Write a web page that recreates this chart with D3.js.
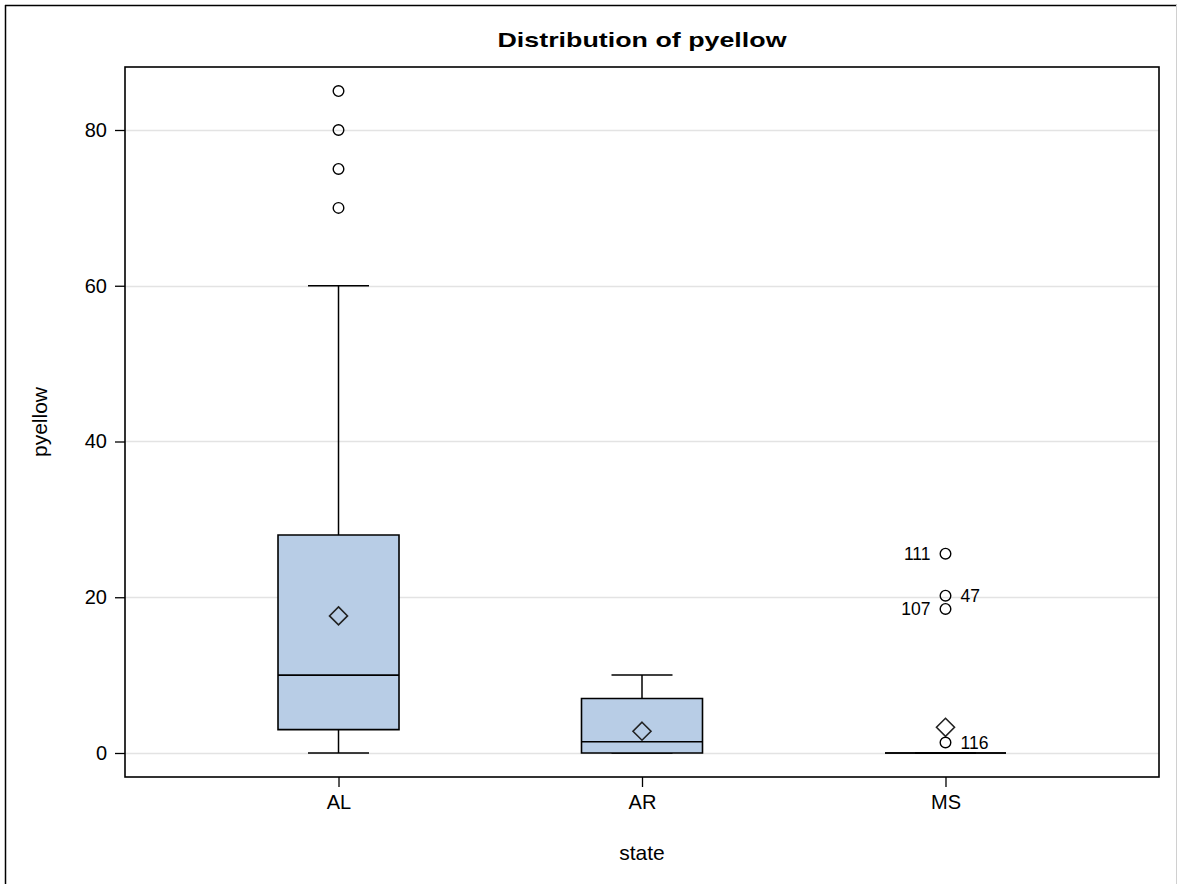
<!DOCTYPE html>
<html>
<head>
<meta charset="utf-8">
<script src="https://cdn.jsdelivr.net/npm/d3@7"></script>
<style>
  html, body { margin: 0; padding: 0; background: #fff; }
  svg { display: block; }
  text { font-family: "Liberation Sans", Arial, sans-serif; fill: #000; }
</style>
</head>
<body>
<svg id="chart" width="1178" height="884"></svg>
<script>
// ---- data ----
const categories   = ["AL", "AR", "MS"];
const q1Values     = [3, 0, 0];
const medianValues = [10, 1.45, 0];
const q3Values     = [28, 7, 0];
const whiskerLow   = [0, 0, 0];
const whiskerHigh  = [60, 10, 0];
const meanValues   = [17.6, 2.8, 3.3];
const outlierState = ["AL", "AL", "AL", "AL", "MS", "MS", "MS", "MS"];
const outlierValue = [85, 80, 75, 70, 25.6, 20.2, 18.5, 1.35];
const outlierLabel = ["", "", "", "", "111", "47", "107", "116"];
const yTicks       = [0, 20, 40, 60, 80];
const titleText    = "Distribution of pyellow";
const xLabel       = "state";
const yLabel       = "pyellow";

// ---- layout ----
const svg = d3.select("#chart");
const W = 1178, H = 884;
const plot = { left: 125, top: 67, right: 1159, bottom: 777 };

const x = d3.scalePoint().domain(categories)
  .range([plot.left, plot.right]).padding(0.7035);
const y = d3.scaleLinear().domain([-3.082, 88.09])
  .range([plot.bottom, plot.top]);

const boxW = 121, capW = 61;

// outer border
svg.append("line").attr("x1", 5).attr("y1", 5.5).attr("x2", 1177).attr("y2", 5.5)
  .attr("stroke", "#000").attr("stroke-width", 1.5);
svg.append("line").attr("x1", 5.5).attr("y1", 5).attr("x2", 5.5).attr("y2", H)
  .attr("stroke", "#000").attr("stroke-width", 1.5);
svg.append("line").attr("x1", 1176.5).attr("y1", 5).attr("x2", 1176.5).attr("y2", H)
  .attr("stroke", "#d0d0d0").attr("stroke-width", 1);

// gridlines
svg.append("g").selectAll("line").data(yTicks).join("line")
  .attr("x1", plot.left).attr("x2", plot.right)
  .attr("y1", d => Math.round(y(d)) + 0.5).attr("y2", d => Math.round(y(d)) + 0.5)
  .attr("stroke", "#e3e3e3").attr("stroke-width", 1.5);

// axes
const yAxis = d3.axisLeft(y).tickValues(yTicks).tickSize(10).tickPadding(8);
const gy = svg.append("g").attr("transform", `translate(${plot.left},0)`).call(yAxis);
gy.select(".domain").remove();
gy.selectAll(".tick line").attr("stroke", "#000").attr("stroke-width", 1.3);
gy.selectAll(".tick text").attr("font-size", 20).attr("font-family", "Liberation Sans, Arial, sans-serif").attr("fill", "#000");

const xAxis = d3.axisBottom(x).tickSize(10).tickPadding(8);
const gx = svg.append("g").attr("transform", `translate(0,${plot.bottom})`).call(xAxis);
gx.select(".domain").remove();
gx.selectAll(".tick line").attr("stroke", "#000").attr("stroke-width", 1.3);
gx.selectAll(".tick text").attr("font-size", 20).attr("font-family", "Liberation Sans, Arial, sans-serif").attr("fill", "#000");

// boxes
const idx = d3.range(categories.length);
const g = svg.append("g");
// whiskers
g.selectAll(".wh").data(idx).join("line")
  .attr("x1", i => x(categories[i])).attr("x2", i => x(categories[i]))
  .attr("y1", i => y(whiskerHigh[i])).attr("y2", i => y(q3Values[i]))
  .attr("stroke", "#000").attr("stroke-width", 1.5);
g.selectAll(".wl").data(idx).join("line")
  .attr("x1", i => x(categories[i])).attr("x2", i => x(categories[i]))
  .attr("y1", i => y(whiskerLow[i])).attr("y2", i => y(q1Values[i]))
  .attr("stroke", "#000").attr("stroke-width", 1.5);
// caps
[whiskerHigh, whiskerLow].forEach(arr => {
  g.append("g").selectAll("line").data(idx).join("line")
    .attr("x1", i => x(categories[i]) - capW / 2).attr("x2", i => x(categories[i]) + capW / 2)
    .attr("y1", i => y(arr[i])).attr("y2", i => y(arr[i]))
    .attr("stroke", "#000").attr("stroke-width", 1.5);
});
// box bodies
g.append("g").selectAll("path").data(idx).join("path")
  .attr("d", i => {
    const cx = x(categories[i]);
    const x0 = cx - boxW / 2, x1 = cx + boxW / 2;
    const yt = y(q3Values[i]), yb = y(q1Values[i]);
    return `M${x0},${yt}H${x1}V${yb}H${x0}Z`;
  })
  .attr("fill", "#b8cde6").attr("stroke", "#000").attr("stroke-width", 1.6);
// medians
g.append("g").selectAll("line").data(idx).join("line")
  .attr("x1", i => x(categories[i]) - boxW / 2).attr("x2", i => x(categories[i]) + boxW / 2)
  .attr("y1", i => y(medianValues[i])).attr("y2", i => y(medianValues[i]))
  .attr("stroke", "#000").attr("stroke-width", 1.6);
// means (diamonds)
g.append("g").selectAll("path").data(idx).join("path")
  .attr("d", i => {
    const cx = x(categories[i]), cy = y(meanValues[i]), r = 9;
    return `M${cx},${cy - r}L${cx + r},${cy}L${cx},${cy + r}L${cx - r},${cy}Z`;
  })
  .attr("fill", "none").attr("stroke", "#222").attr("stroke-width", 1.6);

// outliers
const oIdx = d3.range(outlierValue.length);
g.append("g").selectAll("circle").data(oIdx).join("circle")
  .attr("cx", i => x(outlierState[i])).attr("cy", i => y(outlierValue[i]))
  .attr("r", 5.3).attr("fill", "none").attr("stroke", "#000").attr("stroke-width", 1.4);

// outlier labels: left-side for some, right-side for others
const leftSide = new Set(["111", "107"]);
g.append("g").selectAll("text").data(oIdx.filter(i => outlierLabel[i] !== "")).join("text")
  .attr("x", i => x(outlierState[i]) + (leftSide.has(outlierLabel[i]) ? -15 : 15))
  .attr("y", i => y(outlierValue[i]))
  .attr("dy", "0.35em")
  .attr("text-anchor", i => leftSide.has(outlierLabel[i]) ? "end" : "start")
  .attr("font-size", 17.5)
  .text(i => outlierLabel[i]);

// plot frame
svg.append("rect").attr("x", plot.left).attr("y", plot.top)
  .attr("width", plot.right - plot.left).attr("height", plot.bottom - plot.top)
  .attr("fill", "none").attr("stroke", "#000").attr("stroke-width", 1.6);

// title
svg.append("text").attr("x", (plot.left + plot.right) / 2).attr("y", 47)
  .attr("text-anchor", "middle").attr("font-size", 20.5).attr("font-weight", "bold")
  .attr("textLength", 289).attr("lengthAdjust", "spacingAndGlyphs")
  .text(titleText);

// axis labels
svg.append("text").attr("x", (plot.left + plot.right) / 2).attr("y", 860)
  .attr("text-anchor", "middle").attr("font-size", 21).text(xLabel);
svg.append("text").attr("transform", `translate(47,${(plot.top + plot.bottom) / 2}) rotate(-90)`)
  .attr("text-anchor", "middle").attr("font-size", 21).text(yLabel);
</script>
</body>
</html>
